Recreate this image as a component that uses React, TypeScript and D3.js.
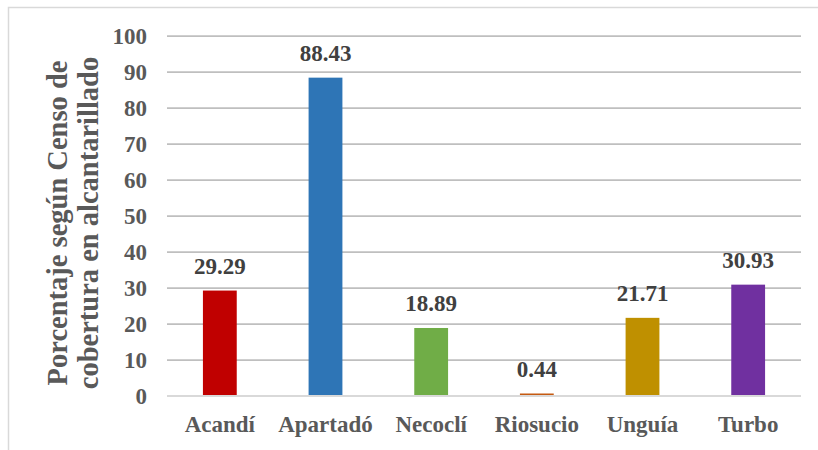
import React from "react";
import * as d3 from "d3";

const categories = ["Acandí", "Apartadó", "Necoclí", "Riosucio", "Unguía", "Turbo"];
const values = [29.29, 88.43, 18.89, 0.44, 21.71, 30.93];
const colors = ["#c00000", "#2e75b6", "#70ad47", "#c55a11", "#bf9000", "#7030a0"];
const yTicks = [0, 10, 20, 30, 40, 50, 60, 70, 80, 90, 100];
const titleLines = ["Porcentaje según Censo de", "cobertura en alcantarillado"];

const W = 818;
const H = 450;
const plot = { left: 167, right: 801, top: 36, bottom: 396 };
const FONT = "Liberation Serif";

export default function App() {
  const x = d3
    .scaleBand<string>()
    .domain(categories)
    .range([plot.left, plot.right])
    .paddingInner(0.68)
    .paddingOuter(0.34);
  const y = d3.scaleLinear().domain([0, 100]).range([plot.bottom, plot.top]);

  const txt = { fontFamily: FONT, fontWeight: 700 as const, fontSize: "23px" };
  const titleTxt = { fontFamily: FONT, fontWeight: 700 as const, fontSize: "28.5px" };

  return (
    <svg
      width={W}
      height={H}
      style={{ position: "absolute", left: 0, top: 0, background: "#fff" }}
    >
      <rect x={8.5} y={7.5} width={820} height={460} fill="#fff" stroke="#d9d9d9" strokeWidth={1.5} />
      {yTicks.map((t) => (
        <g key={t}>
          <line
            x1={plot.left}
            x2={plot.right}
            y1={y(t)}
            y2={y(t)}
            stroke={t === 0 ? "#d9d9d9" : "#bfbfbf"}
            strokeWidth={t === 0 ? 2 : 1.75}
          />
          <text x={147} y={y(t)} dy="0.35em" textAnchor="end" style={txt} fill="#595959">
            {t}
          </text>
        </g>
      ))}
      {categories.map((c, i) => {
        const top = Math.min(y(values[i]), y(0) - 2.5);
        return (
          <g key={c}>
            <rect
              x={x(c)}
              y={top}
              width={x.bandwidth()}
              height={y(0) - 1 - top}
              fill={colors[i]}
            />
            <text
              x={(x(c) as number) + x.bandwidth() / 2}
              y={y(values[i]) - 17}
              textAnchor="middle"
              style={txt}
              fill="#404040"
            >
              {values[i].toFixed(2)}
            </text>
            <text
              x={(x(c) as number) + x.bandwidth() / 2}
              y={432}
              textAnchor="middle"
              style={txt}
              fill="#595959"
            >
              {c}
            </text>
          </g>
        );
      })}
      {titleLines.map((l, i) => (
        <text
          key={l}
          transform={`translate(${67 + i * 31},223) rotate(-90)`}
          textAnchor="middle"
          style={titleTxt}
          fill="#595959"
        >
          {l}
        </text>
      ))}
    </svg>
  );
}
